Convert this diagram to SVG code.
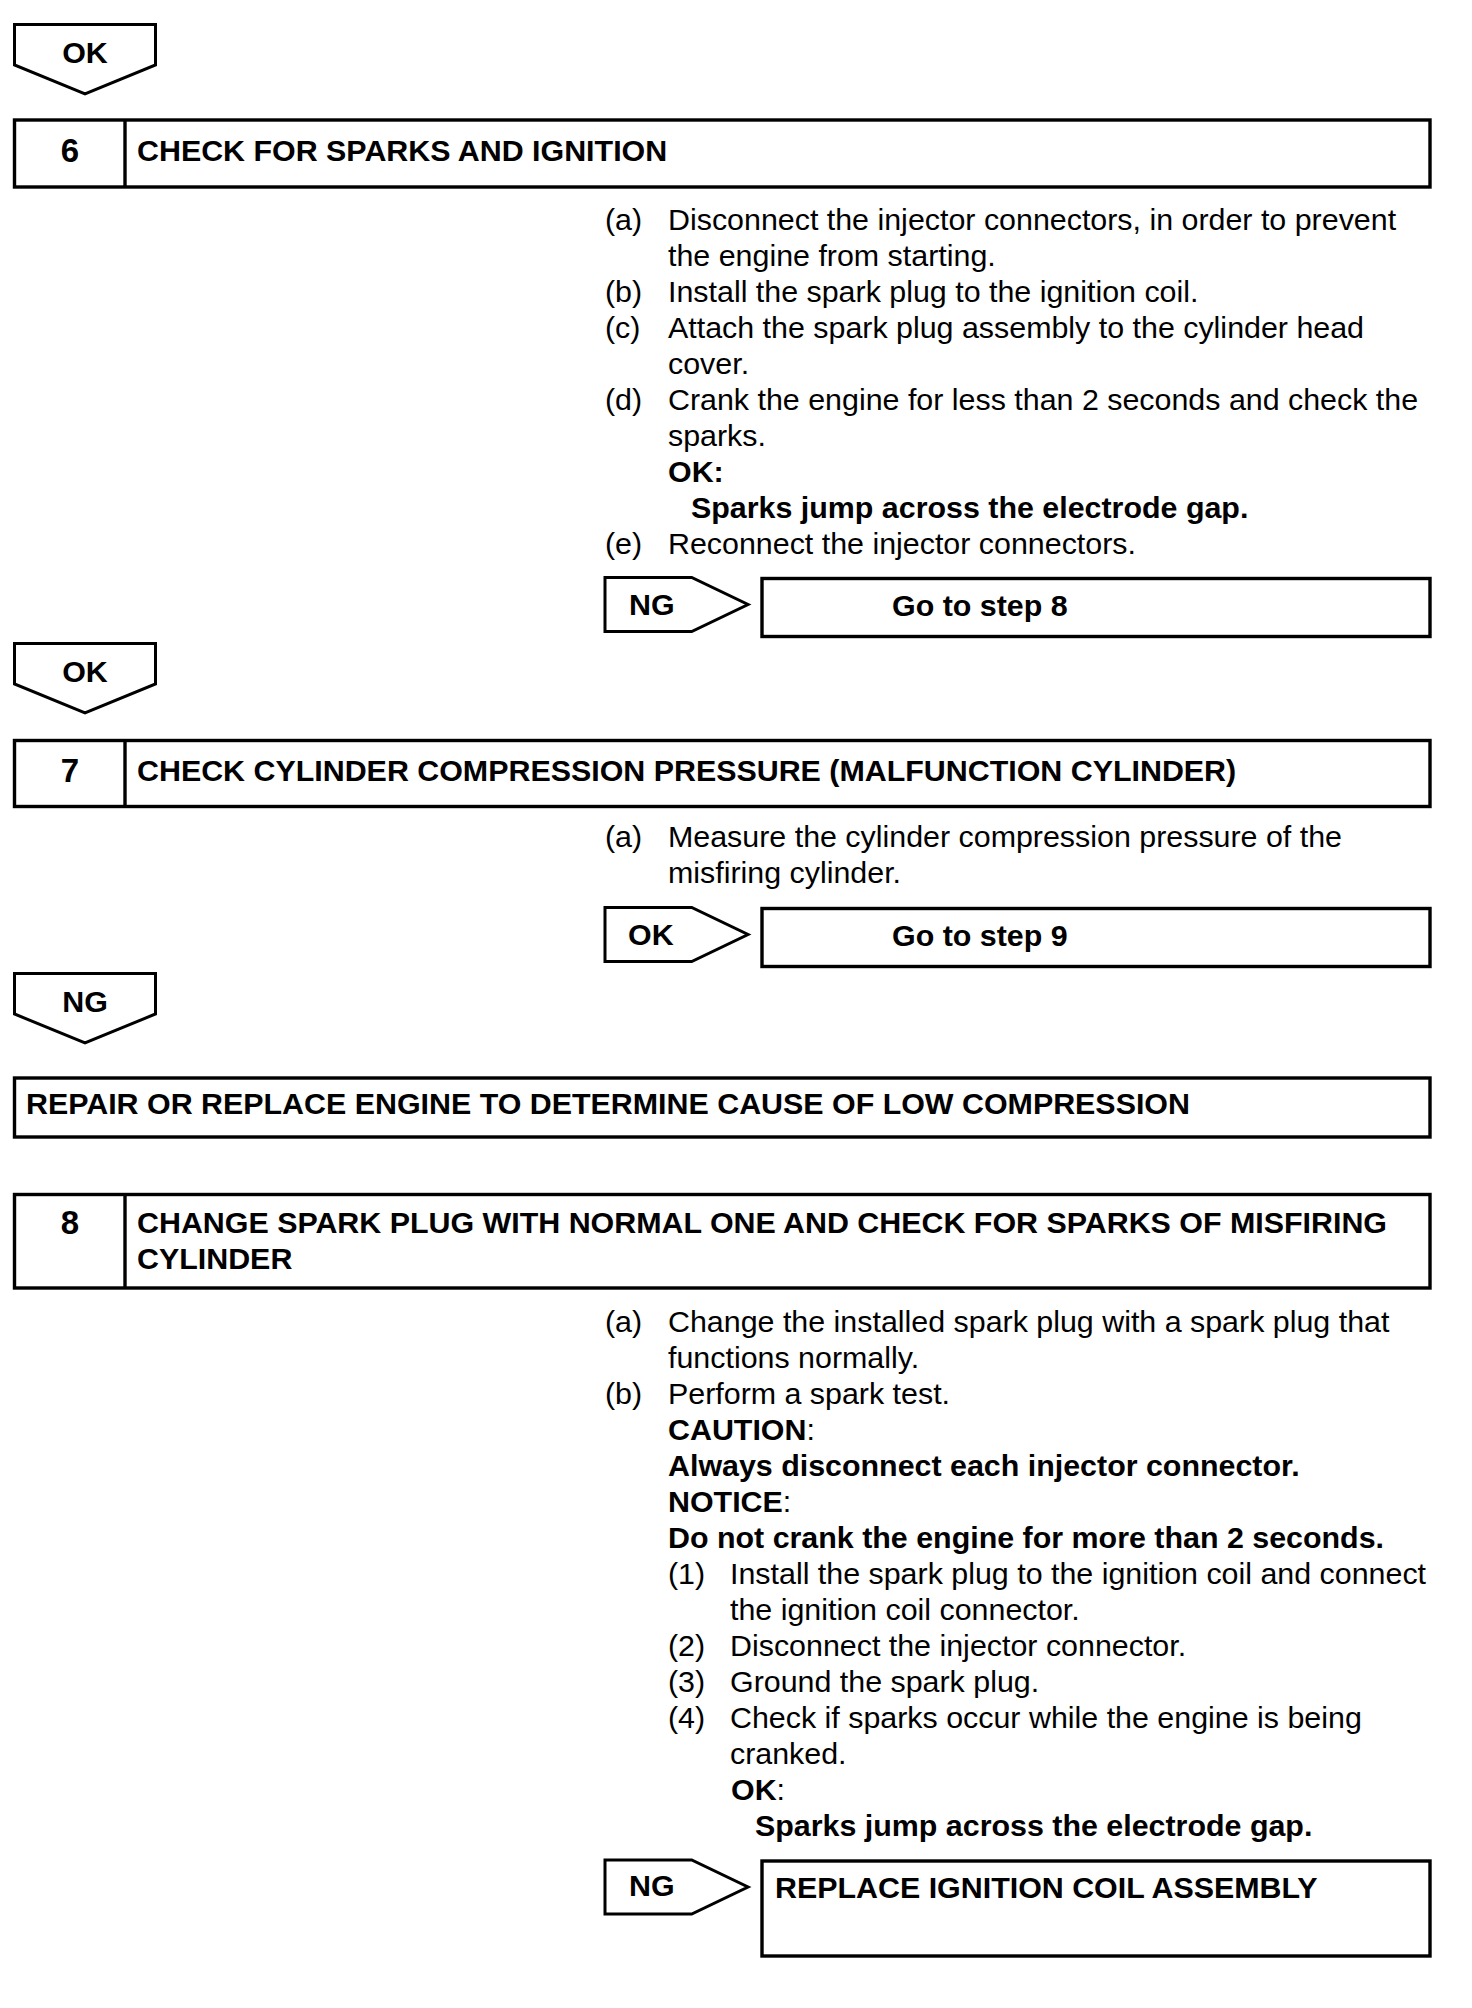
<svg xmlns="http://www.w3.org/2000/svg" width="1472" height="2008" viewBox="0 0 1472 2008">
<style>
text{font-family:"Liberation Sans",Arial,Helvetica,sans-serif;fill:#000}
.r{font-size:30.4px}
.b{font-size:30.4px;font-weight:bold}
.n{font-size:33px;font-weight:bold;text-anchor:middle}
.m{text-anchor:middle}
.box{fill:#fff;stroke:#000;stroke-width:3.4}
.arr{fill:#fff;stroke:#000;stroke-width:3;stroke-linejoin:miter}
.ln{stroke:#000;stroke-width:3.4}
</style>
<rect width="1472" height="2008" fill="#fff"/>

<g id="connectors">
  <g id="ok-to-6">
    <polygon class="arr" points="14.5,24.5 155.5,24.5 155.5,65 85,94 14.5,65"/>
    <text class="b m" x="85" y="62.5">OK</text>
  </g>
  <g id="ng-6-to-8">
    <polygon class="arr" points="605,577.5 691.7,577.5 748,604.5 691.7,631.5 605,631.5"/>
    <text class="b" x="629" y="615">NG</text>
  </g>
  <g id="ok-to-7">
    <polygon class="arr" points="14.5,643.5 155.5,643.5 155.5,684 85,713 14.5,684"/>
    <text class="b m" x="85" y="681.5">OK</text>
  </g>
  <g id="ok-7-to-9">
    <polygon class="arr" points="605,907.5 691.7,907.5 748,934.5 691.7,961.5 605,961.5"/>
    <text class="b" x="628" y="945">OK</text>
  </g>
  <g id="ng-to-repair">
    <polygon class="arr" points="14.5,973.5 155.5,973.5 155.5,1014 85,1043 14.5,1014"/>
    <text class="b m" x="85" y="1011.5">NG</text>
  </g>
  <g id="ng-8-to-replace">
    <polygon class="arr" points="605,1860 691.7,1860 748,1887 691.7,1914 605,1914"/>
    <text class="b" x="629" y="1896">NG</text>
  </g>
</g>

<g id="step6">
  <rect class="box" x="14.5" y="120" width="1415.5" height="67"/>
  <line class="ln" x1="125" y1="120" x2="125" y2="187"/>
  <text class="n" x="70" y="162">6</text>
  <text class="b" x="137" y="161">CHECK FOR SPARKS AND IGNITION</text>
</g>

<g id="step6-text">
  <text class="r" x="605" y="230">(a)</text>
  <text class="r" x="668" y="230">Disconnect the injector connectors, in order to prevent</text>
  <text class="r" x="668" y="266">the engine from starting.</text>
  <text class="r" x="605" y="302">(b)</text>
  <text class="r" x="668" y="302">Install the spark plug to the ignition coil.</text>
  <text class="r" x="605" y="338">(c)</text>
  <text class="r" x="668" y="338">Attach the spark plug assembly to the cylinder head</text>
  <text class="r" x="668" y="374">cover.</text>
  <text class="r" x="605" y="410">(d)</text>
  <text class="r" x="668" y="410">Crank the engine for less than 2 seconds and check the</text>
  <text class="r" x="668" y="446">sparks.</text>
  <text class="b" x="668" y="482">OK:</text>
  <text class="b" x="691" y="518">Sparks jump across the electrode gap.</text>
  <text class="r" x="605" y="554">(e)</text>
  <text class="r" x="668" y="554">Reconnect the injector connectors.</text>
</g>

<g id="goto8">
  <rect class="box" x="762" y="578.5" width="668" height="58"/>
  <text class="b" x="892" y="616">Go to step 8</text>
</g>

<g id="step7">
  <rect class="box" x="14.5" y="740.5" width="1415.5" height="66"/>
  <line class="ln" x1="125" y1="740.5" x2="125" y2="806.5"/>
  <text class="n" x="70" y="782">7</text>
  <text class="b" x="137" y="781">CHECK CYLINDER COMPRESSION PRESSURE (MALFUNCTION CYLINDER)</text>
</g>

<g id="step7-text">
  <text class="r" x="605" y="847">(a)</text>
  <text class="r" x="668" y="847">Measure the cylinder compression pressure of the</text>
  <text class="r" x="668" y="883">misfiring cylinder.</text>
</g>

<g id="goto9">
  <rect class="box" x="762" y="908.5" width="668" height="58"/>
  <text class="b" x="892" y="946">Go to step 9</text>
</g>

<g id="repair">
  <rect class="box" x="14.5" y="1078" width="1415.5" height="59"/>
  <text class="b" x="26" y="1114">REPAIR OR REPLACE ENGINE TO DETERMINE CAUSE OF LOW COMPRESSION</text>
</g>

<g id="step8">
  <rect class="box" x="14.5" y="1194.5" width="1415.5" height="93.5"/>
  <line class="ln" x1="125" y1="1194.5" x2="125" y2="1288"/>
  <text class="n" x="70" y="1234">8</text>
  <text class="b" x="137" y="1233">CHANGE SPARK PLUG WITH NORMAL ONE AND CHECK FOR SPARKS OF MISFIRING</text>
  <text class="b" x="137" y="1269">CYLINDER</text>
</g>

<g id="step8-text">
  <text class="r" x="605" y="1332">(a)</text>
  <text class="r" x="668" y="1332">Change the installed spark plug with a spark plug that</text>
  <text class="r" x="668" y="1368">functions normally.</text>
  <text class="r" x="605" y="1404">(b)</text>
  <text class="r" x="668" y="1404">Perform a spark test.</text>
  <text class="b" x="668" y="1440">CAUTION<tspan font-weight="normal">:</tspan></text>
  <text class="b" x="668" y="1476">Always disconnect each injector connector.</text>
  <text class="b" x="668" y="1512">NOTICE<tspan font-weight="normal">:</tspan></text>
  <text class="b" x="668" y="1548">Do not crank the engine for more than 2 seconds.</text>
  <text class="r" x="668" y="1584">(1)</text>
  <text class="r" x="730" y="1584">Install the spark plug to the ignition coil and connect</text>
  <text class="r" x="730" y="1620">the ignition coil connector.</text>
  <text class="r" x="668" y="1656">(2)</text>
  <text class="r" x="730" y="1656">Disconnect the injector connector.</text>
  <text class="r" x="668" y="1692">(3)</text>
  <text class="r" x="730" y="1692">Ground the spark plug.</text>
  <text class="r" x="668" y="1728">(4)</text>
  <text class="r" x="730" y="1728">Check if sparks occur while the engine is being</text>
  <text class="r" x="730" y="1764">cranked.</text>
  <text class="b" x="731" y="1800">OK<tspan font-weight="normal">:</tspan></text>
  <text class="b" x="755" y="1836">Sparks jump across the electrode gap.</text>
</g>

<g id="replace">
  <rect class="box" x="762" y="1861" width="668" height="95"/>
  <text class="b" x="775" y="1898">REPLACE IGNITION COIL ASSEMBLY</text>
</g>
</svg>
